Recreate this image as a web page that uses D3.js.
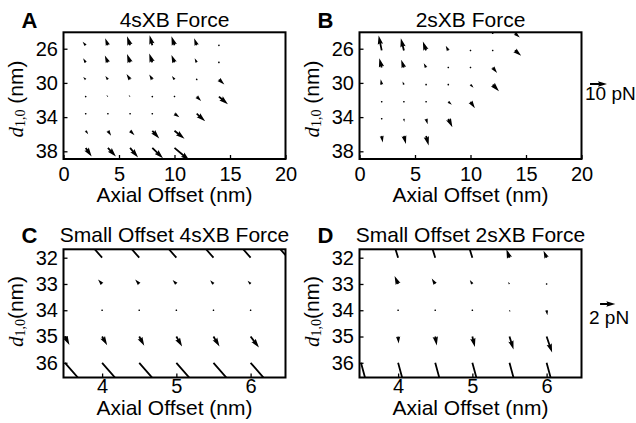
<!DOCTYPE html>
<html>
<head>
<meta charset="utf-8">
<script src="https://cdn.jsdelivr.net/npm/d3@7"></script>
<style>
  body { margin: 0; background: #fff; }
  text { font-family: "Liberation Sans", Arial, sans-serif; fill: #000; }
</style>
</head>
<body>
<div id="chart-area"></div>
<script>
// grid of axial offsets (nm) and lattice spacings d10 (nm)
const offsetAB = [2, 4, 6, 8, 10, 12, 14];
const dA = [25.6, 27.6, 29.6, 31.6, 33.6, 35.6, 37.6];
const dB = [24.2, 26.2, 28.2, 30.2, 32.2, 34.2, 36.2];
const offsetCD = [3.5, 4, 4.5, 5, 5.5, 6, 6.5];
const dCD = [32, 33, 34, 35, 36];

// forces (pN), rows follow d, columns follow offset; null = no value
const fxA = [
  [-1.8, -1.6, -1.8, -1.6, -1.8, -1.5, -0.2],
  [-1.5, -1.8, -1.8, -1.8, -1.8, -1.2, 0],
  [-1.5, -1.5, -2.1, -1.8, -1.5, -0.2, 3.2],
  [-0.6, -0.9, -0.9, -0.1, -0.1, 2.6, 5.3],
  [0, 0, 0, 0, 2.9, 5.0, null],
  [1.5, 1.9, 2.6, 4.1, 5.9, null, null],
  [3.5, 4.7, 4.7, 6.3, 8.8, null, null]
];
const fyA = [
  [-2.1, -4.1, -5.3, -5.9, -5.3, -4.1, -0.2],
  [-2.4, -4.1, -5.0, -5.3, -4.4, -2.4, 0],
  [-1.5, -2.1, -3.2, -2.9, -2.1, -0.2, 2.9],
  [-0.4, -0.9, -0.9, -0.1, 0, 2.6, 4.5],
  [0, 0, 0, 0, 2.1, 4.4, null],
  [2.1, 2.9, 2.6, 4.5, 4.7, null, null],
  [5.1, 5.1, 5.7, 6.1, 7.4, null, null]
];
const fxB = [
  [null, null, null, null, null, 0, 2.9],
  [-1.8, -1.8, -1.9, -1.5, 0, -0.2, 3.7],
  [-1.4, -1.6, -1.4, 0, 0, 2.6, null],
  [-0.6, -0.8, 0, 0, 1.8, 3.7, null],
  [0, 0, 0, 2.1, 2.6, null, null],
  [0, 0.2, 0.9, 2.4, null, null, null],
  [0.6, 1.2, 1.5, null, null, null, null]
];
const fyB = [
  [null, null, null, null, null, 0, 2.4],
  [-8.8, -7.2, -5.3, -2.8, 0, 0, 3.1],
  [-5.5, -4.5, -2.5, 0, 0, 3.2, null],
  [-3.1, -1.9, 0, 0, 1.9, 3.9, null],
  [0, 0, 0, 1.8, 3.8, null, null],
  [0, 1.8, 3.2, 5.0, null, null, null],
  [3.8, 4.7, 5.6, null, null, null, null]
];
const fxC = [
  [null, -4.0, -4.0, -4.0, -4.0, -4.0, -4.0],
  [null, -0.53, -0.53, -0.49, -0.43, -0.39, null],
  [null, 0, 0, 0, 0, 0, null],
  [0.58, 0.66, 0.66, 0.75, 0.79, 1.09, null],
  [4.0, 4.0, 4.0, 4.0, 4.0, 4.0, null]
];
const fyC = [
  [null, -4.6, -4.6, -4.6, -4.6, -4.6, -4.6],
  [null, -0.59, -0.57, -0.53, -0.49, -0.43, null],
  [null, 0, 0, 0, 0, 0, null],
  [1.1, 1.14, 1.22, 1.32, 1.32, 1.45, null],
  [4.6, 4.6, 4.6, 4.6, 4.6, 4.6, null]
];
const fxD = [
  [null, -0.8, -0.8, -0.8, -0.4, -0.4, null],
  [null, -0.46, -0.46, -0.33, -0.2, 0, null],
  [null, 0, 0, 0, 0.1, 0.1, null],
  [null, 0.07, 0.2, 0.33, 0.53, 0.72, null],
  [0.9, 0.9, 0.9, 0.9, 0.9, 0.9, null]
];
const fyD = [
  [null, -2.6, -2.6, -2.6, -1.1, -0.92, null],
  [null, -1.05, -0.72, -0.53, -0.26, 0, null],
  [null, 0, 0, 0, 0.26, 0.65, null],
  [null, 0.92, 1.18, 1.38, 1.71, 2.1, null],
  [3.3, 3.3, 3.3, 3.3, 3.3, 3.3, null]
];

const ticksXAB = [0, 5, 10, 15, 20];
const ticksYAB = [26, 30, 34, 38];
const ticksXCD = [4, 5, 6];
const ticksYCD = [32, 33, 34, 35, 36];
const keyAB = 10, keyCD = 2;

const svg = d3.select("#chart-area")
  .append("svg")
  .attr("width", 636)
  .attr("height", 423);

const shaft = 1.8;

// matplotlib-like quiver arrow polygon (pivot at tail)
function arrowPoints(x0, y0, dx, dy) {
  const len = Math.hypot(dx, dy) / shaft;
  const hl = 5, hal = 4.5, hw = 3, minsh = 5;
  let X, Y;
  if (len < 1) {
    X = d3.range(8).map(k => Math.cos(k * Math.PI / 3) * 0.5);
    Y = d3.range(8).map(k => Math.sin(k * Math.PI / 3) * 0.5);
  } else if (len < minsh) {
    const s = len / minsh;
    X = [0, minsh - hal, minsh - hl, minsh, minsh - hl, minsh - hal, 0, 0].map(v => v * s);
    Y = [0.5, 0.5, hw / 2, 0, -hw / 2, -0.5, -0.5, 0.5].map(v => v * s);
  } else {
    X = [0, len - hal, len - hl, len, len - hl, len - hal, 0, 0];
    Y = [0.5, 0.5, hw / 2, 0, -hw / 2, -0.5, -0.5, 0.5];
  }
  const a = Math.atan2(dy, dx), c = Math.cos(a), s = Math.sin(a);
  return X.map((xv, i) => [
    x0 + shaft * (xv * c - Y[i] * s),
    y0 + shaft * (xv * s + Y[i] * c)
  ]);
}

const line = d3.line();

function panel(cfg) {
  const x = d3.scaleLinear().domain(cfg.xDomain).range([cfg.left, cfg.left + 222]);
  const y = d3.scaleLinear().domain(cfg.yDomain).range([cfg.top, cfg.bottom]);

  const clipId = "clip" + cfg.label;
  svg.append("clipPath").attr("id", clipId)
    .append("rect")
    .attr("x", cfg.left).attr("y", cfg.top)
    .attr("width", 222).attr("height", cfg.bottom - cfg.top);

  const g = svg.append("g").attr("clip-path", `url(#${clipId})`);

  const vectors = [];
  cfg.rows.forEach((d, i) => {
    cfg.cols.forEach((o, j) => {
      if (cfg.fx[i][j] === null) return;
      vectors.push({ o: o, d: d, fx: cfg.fx[i][j], fy: cfg.fy[i][j] });
    });
  });

  g.selectAll("path")
    .data(vectors)
    .enter()
    .append("path")
    .attr("d", v => line(arrowPoints(x(v.o), y(v.d), v.fx * cfg.scale, v.fy * cfg.scale)) + "Z")
    .attr("fill", "#000");

  const xAxis = d3.axisBottom(x)
    .tickValues(cfg.xTicks)
    .tickSize(-4)
    .tickPadding(cfg.xPad)
    .tickFormat(d3.format("d"));

  const yAxis = d3.axisLeft(y)
    .tickValues(cfg.yTicks)
    .tickSize(-4)
    .tickPadding(5.5)
    .tickFormat(d3.format("d"));

  const xg = svg.append("g")
    .attr("transform", `translate(0, ${cfg.bottom})`)
    .call(xAxis);
  const yg = svg.append("g")
    .attr("transform", `translate(${cfg.left}, 0)`)
    .call(yAxis);

  [xg, yg].forEach(ax => {
    ax.select(".domain").remove();
    ax.attr("font-size", null).attr("font-family", null);
    ax.selectAll("text").attr("font-size", "20px").attr("fill", "#000");
    ax.selectAll("line").attr("stroke", "#000").attr("stroke-width", 1.3);
  });

  svg.append("rect")
    .attr("x", cfg.left).attr("y", cfg.top)
    .attr("width", 222).attr("height", cfg.bottom - cfg.top)
    .attr("fill", "none")
    .attr("stroke", "#000")
    .attr("stroke-width", 2);

  const cx = cfg.left + 111;

  svg.append("text")
    .attr("x", cx).attr("y", cfg.titleY)
    .attr("text-anchor", "middle")
    .attr("font-size", "21px")
    .text(cfg.title);

  svg.append("text")
    .attr("x", cfg.left - 42).attr("y", cfg.titleY + 1)
    .attr("font-size", "22px")
    .attr("font-weight", "bold")
    .text(cfg.label);

  svg.append("text")
    .attr("x", cx).attr("y", cfg.xLabelY)
    .attr("text-anchor", "middle")
    .attr("font-size", "21px")
    .text("Axial Offset (nm)");

  const yl = svg.append("text")
    .attr("transform", `translate(${cfg.left - 41}, ${cfg.yLabelC}) rotate(-90)`)
    .attr("text-anchor", "middle")
    .attr("font-size", "21px");
  yl.append("tspan")
    .attr("font-family", "'Liberation Serif', serif")
    .attr("font-style", "italic")
    .attr("font-size", "21px")
    .text("d");
  yl.append("tspan")
    .attr("font-family", "'Liberation Serif', serif")
    .attr("font-size", "14px")
    .attr("dy", 2)
    .text("1,0");
  yl.append("tspan")
    .attr("dy", -2)
    .text(cfg.yLabelGap + "(nm)");

  if (cfg.key) {
    const L = cfg.key.value * cfg.scale;
    svg.append("path")
      .attr("d", line(arrowPoints(cfg.key.cx - L / 2, cfg.key.cy, L, 0)) + "Z")
      .attr("fill", "#000");
    svg.append("text")
      .attr("x", cfg.key.tx).attr("y", cfg.key.ty)
      .attr("font-size", "19px")
      .text(cfg.key.value + " pN");
  }
}

panel({
  label: "A", title: "4sXB Force", left: 63.5, top: 32.3, bottom: 159,
  xDomain: [0, 20], yDomain: [24.08, 38.9], xTicks: ticksXAB, yTicks: ticksYAB, xPad: 7.5,
  rows: dA, cols: offsetAB, fx: fxA, fy: fyA, scale: 1.7,
  titleY: 27, xLabelY: 202, yLabelC: 99, yLabelGap: " "
});
panel({
  label: "B", title: "2sXB Force", left: 359.5, top: 32.3, bottom: 159,
  xDomain: [0, 20], yDomain: [24.08, 38.9], xTicks: ticksXAB, yTicks: ticksYAB, xPad: 7.5,
  rows: dB, cols: offsetAB, fx: fxB, fy: fyB, scale: 1.7,
  titleY: 27, xLabelY: 202, yLabelC: 99, yLabelGap: " ",
  key: { value: keyAB, cx: 598.5, cy: 84, tx: 585, ty: 99.5 }
});
panel({
  label: "C", title: "Small Offset 4sXB Force", left: 63.5, top: 249.3, bottom: 377.5,
  xDomain: [3.48, 6.47], yDomain: [31.68, 36.56], xTicks: ticksXCD, yTicks: ticksYCD, xPad: 1,
  rows: dCD, cols: offsetCD, fx: fxC, fy: fyC, scale: 7.65,
  titleY: 242, xLabelY: 415, yLabelC: 311.5, yLabelGap: ""
});
panel({
  label: "D", title: "Small Offset 2sXB Force", left: 359.5, top: 249.3, bottom: 377.5,
  xDomain: [3.48, 6.47], yDomain: [31.68, 36.56], xTicks: ticksXCD, yTicks: ticksYCD, xPad: 1,
  rows: dCD, cols: offsetCD, fx: fxD, fy: fyD, scale: 7.65,
  titleY: 242, xLabelY: 415, yLabelC: 311.5, yLabelGap: "",
  key: { value: keyCD, cx: 607.7, cy: 304, tx: 589, ty: 324 }
});
</script>
</body>
</html>
